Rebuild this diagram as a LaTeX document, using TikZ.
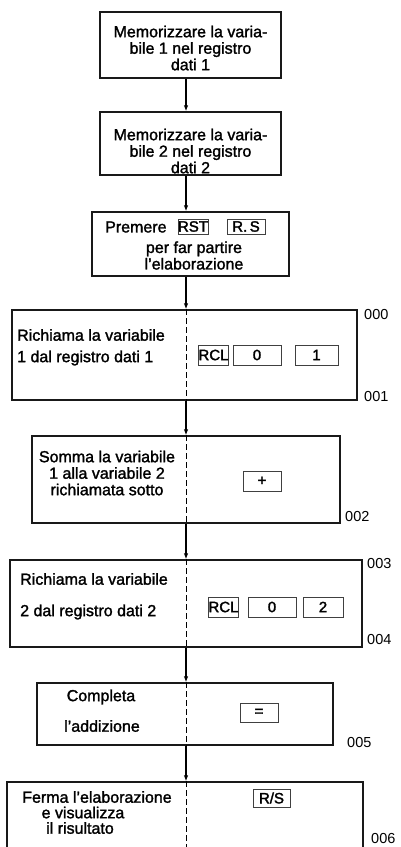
\documentclass[tikz,border=0pt]{standalone}
\usepackage{fontspec}
\setmainfont{Liberation Sans}
% slightly heavier face for the printed texts of the chart
\newfontfamily\chartfont{Liberation Sans}[FakeBold=1.6]
\newfontfamily\keyfont{Liberation Sans}[FakeBold=2.0]
\usetikzlibrary{arrows.meta}
\begin{document}
\begin{tikzpicture}[x=1pt,y=-1pt,
  box/.style={draw=black!90, line width=1.3pt, inner sep=0pt},
  flow/.style={line width=1.3pt, -{Latex[length=6pt,width=4.5pt]}},
  divider/.style={line width=0.9pt, dash pattern=on 6pt off 3pt},
  txt/.style={font=\chartfont\fontsize{16}{16.5}\selectfont, align=center, inner sep=0pt},
  ltxt/.style={font=\chartfont\fontsize{16}{16.5}\selectfont, anchor=west, inner sep=0pt},
  key/.style={draw=black!75, line width=0.7pt, minimum height=20pt, inner sep=0pt,
              font=\keyfont\fontsize{15}{15}\selectfont},
  addr/.style={font=\fontsize{14.5}{14.5}\selectfont, anchor=west, inner sep=0pt}
]
\useasboundingbox (0,0) rectangle (401,847);
\clip (0,0) rectangle (401,847);

% column along which the flow runs
\coordinate (axis) at (186,0);

% ---- preparatory steps ----
\node[box, minimum width=181pt, minimum height=66pt] (b1) at (190.5,45) {};
\node[txt] at (190.5,48) {Memorizzare la varia-\\bile 1 nel registro\\dati 1};

\node[box, minimum width=181pt, minimum height=63pt] (b2) at (190.5,143.5) {};
\node[txt] at (190.5,151) {Memorizzare la varia-\\bile 2 nel registro\\dati 2};

\node[box, minimum width=197pt, minimum height=64pt] (b3) at (190.5,244) {};
\node[ltxt] at (105,227) {Premere};
\node[key, minimum width=30pt, minimum height=15pt] (kRST) at (193,226.5) {RST};
\node[key, minimum width=38pt, minimum height=15pt] (kRS) at (246,226.5) {R.\,S};
\node[txt] at (194,255.5) {per far partire\\l’elaborazione};

% ---- program steps ----
\node[box, minimum width=345pt, minimum height=90pt] (b4) at (184.5,355) {};
\node[ltxt] at (17,335) {Richiama la variabile};
\node[ltxt] at (17,358) {1 dal registro dati 1};
\node[key, minimum width=27pt] (k41) at (213.5,355) {RCL};
\node[key, minimum width=48pt] (k42) at (257,355) {0};
\node[key, minimum width=43pt] (k43) at (316.5,355) {1};
\node[addr] (a000) at (364,315) {000};
\node[addr] (a001) at (364,397) {001};

\node[box, minimum width=308pt, minimum height=87pt] (b5) at (186,479.5) {};
\node[txt] at (107,473) {Somma la variabile\\1 alla variabile 2\\richiamata sotto};
\node[key, minimum width=38pt] (k5) at (262,481) {+};
\node[addr] (a002) at (345,517) {002};

\node[box, minimum width=352pt, minimum height=87pt] (b6) at (186,603.5) {};
\node[ltxt] at (20,579) {Richiama la variabile};
\node[ltxt] at (20,612) {2 dal registro dati 2};
\node[key, minimum width=27pt] (k61) at (223.5,607) {RCL};
\node[key, minimum width=48pt] (k62) at (272,607) {0};
\node[key, minimum width=40pt] (k63) at (323,607) {2};
\node[addr] (a003) at (367,563) {003};
\node[addr] (a004) at (367,639) {004};

\node[box, minimum width=296pt, minimum height=62pt] (b7) at (185,714) {};
\node[txt] at (101,697) {Completa};
\node[txt] at (102,726) {l’addizione};
\node[key, minimum width=38pt, minimum height=19pt] (k7) at (259,712.5) {=};
\node[addr] (a005) at (347,742) {005};

\node[box, minimum width=356pt, minimum height=110pt] (b8) at (185,837) {};
\node[txt] at (97,797) {Ferma l’elaborazione};
\node[txt] at (83,812.5) {e visualizza};
\node[txt] at (80,828) {il risultato};
\node[key, minimum width=37pt, minimum height=18pt] (k8) at (271.5,798) {R/S};
\node[addr] (a006) at (371,838) {006};

% ---- connectors ----
\draw[flow] (b1.south -| axis) -- (b2.north -| axis);
\draw[flow] (b2.south -| axis) -- (b3.north -| axis);
\draw[flow] (b3.south -| axis) -- (b4.north -| axis);
\draw[flow] (b4.south -| axis) -- (b5.north -| axis);
\draw[flow] (b5.south -| axis) -- (b6.north -| axis);
\draw[flow] (b6.south -| axis) -- (b7.north -| axis);
\draw[flow] (b7.south -| axis) -- (b8.north -| axis);

% dashed split between description and key sequence
\foreach \b in {b4,b5,b6,b7,b8}
  \draw[divider] (\b.north -| axis) -- (\b.south -| axis);
\end{tikzpicture}
\end{document}
